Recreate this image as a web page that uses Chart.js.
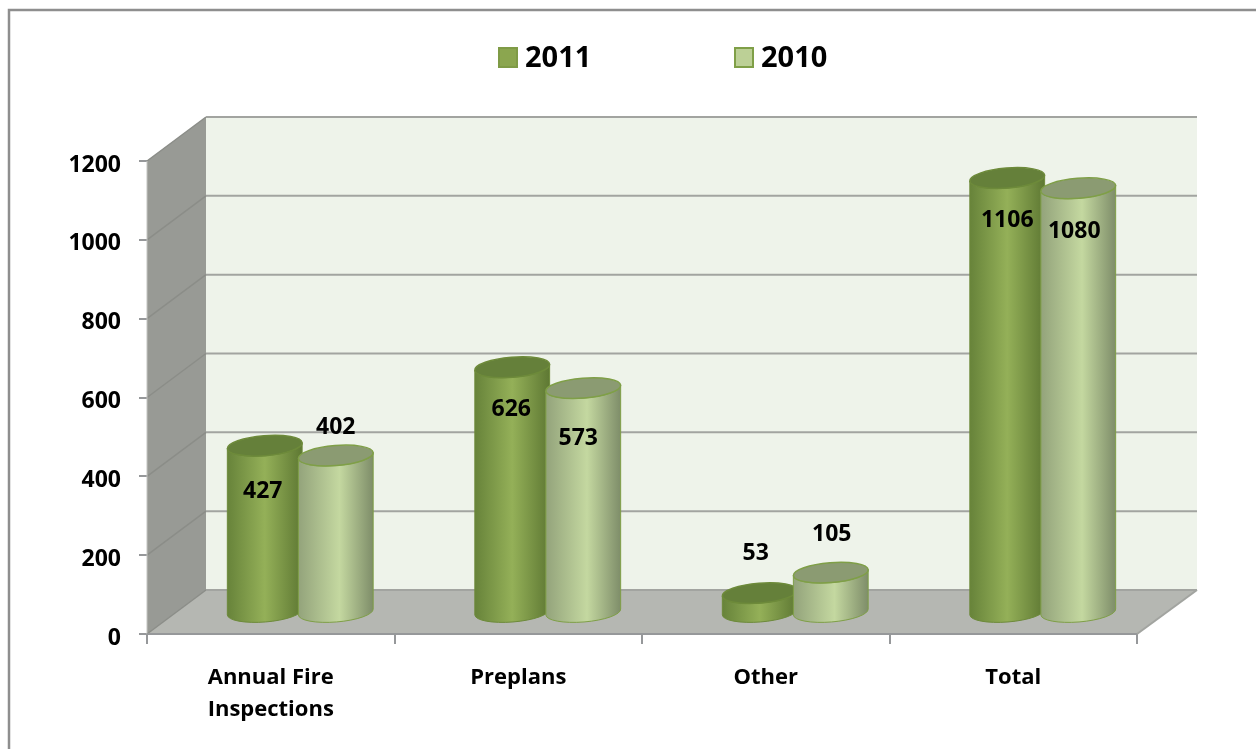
<!DOCTYPE html>
<html>
<head>
<meta charset="utf-8">
<style>
 html,body{margin:0;padding:0;background:#fff}
 canvas{display:block}
</style>
<script src="https://cdn.jsdelivr.net/npm/chart.js@4/dist/chart.umd.min.js"></script>
</head>
<body>
<canvas id="chart" width="1256" height="749"></canvas>
<script>
const categories = [["Annual Fire","Inspections"],"Preplans","Other","Total"]
const seriesNames = ["2011","2010"]
const values2011 = [427,626,53,1106]
const values2010 = [402,573,105,1080]

const FONT = "'Open Sans', sans-serif"
const DEPTH_X = 59, DEPTH_Y = 44
const CYL_LIFT = 20

// how far each value label sits from the top of its cylinder
const labelShift = [
 [[-2,46],[-1,42],[-4,-40],[0,42]],
 [[0,-28],[-5,50],[1,-38],[-4,43]]
]

const cylinderStyle = [
 {left:"#67833a",mid:"#94b058",midAt:.5,right:"#5e7833",top:"#65803a",line:"#6d8a3a"},
 {left:"#93a37b",mid:"#c4d8a0",midAt:.55,right:"#7e8d69",top:"#8b9b72",line:"#7f9f47"}
]

// swatch x, text x for each legend entry
const legendSpots = [[498,525],[734,761]]
const legendFill = [["#8ba64f","#7f9b46"],["#bcd096","#7f9f47"]]

function polygon(ctx,pts,fill){
 ctx.beginPath()
 pts.forEach((p,i)=> i ? ctx.lineTo(p[0],p[1]) : ctx.moveTo(p[0],p[1]))
 ctx.closePath()
 ctx.fillStyle = fill
 ctx.fill()
}

function line(ctx,x1,y1,x2,y2,color,w){
 ctx.beginPath()
 ctx.moveTo(x1,y1)
 ctx.lineTo(x2,y2)
 ctx.strokeStyle = color
 ctx.lineWidth = w
 ctx.stroke()
}

const frame = {
 id:"frame",
 afterLayout(chart){
  // y tick text sits a little under its tick mark in the original
  chart.scales.y.getLabelItems().forEach(it=>{it.options.translation[1] += 4})
 },
 beforeDraw(chart){
  const ctx = chart.ctx
  ctx.save()
  ctx.fillStyle = "#fff"
  ctx.fillRect(0,0,chart.width,chart.height)
  ctx.strokeStyle = "#8e8e8e"
  ctx.lineWidth = 2.5
  ctx.beginPath()
  ctx.moveTo(9,chart.height)
  ctx.lineTo(9,10)
  ctx.lineTo(chart.width,10)
  ctx.stroke()
  // legend
  ctx.font = "700 29px "+FONT
  ctx.textBaseline = "middle"
  seriesNames.forEach((name,i)=>{
   const [bx,tx] = legendSpots[i]
   ctx.fillStyle = legendFill[i][0]
   ctx.strokeStyle = legendFill[i][1]
   ctx.lineWidth = 2
   ctx.fillRect(bx+1,48,18,19)
   ctx.strokeRect(bx+1,48,18,19)
   ctx.fillStyle = "#000"
   ctx.fillText(name,tx,59)
  })
  ctx.restore()
 }
}

const walls = {
 id:"walls",
 beforeDatasetsDraw(chart){
  const ctx = chart.ctx, x = chart.scales.x, y = chart.scales.y
  const y0 = y.getPixelForValue(0), yMax = y.getPixelForValue(y.max)
  const backRight = x.right+DEPTH_X+1
  ctx.save()
  polygon(ctx,[[x.left+DEPTH_X,yMax-DEPTH_Y],[backRight,yMax-DEPTH_Y],[backRight,y0-DEPTH_Y],[x.left+DEPTH_X,y0-DEPTH_Y]],"#eef3ea")
  polygon(ctx,[[x.left,yMax],[x.left+DEPTH_X,yMax-DEPTH_Y],[x.left+DEPTH_X,y0-DEPTH_Y],[x.left,y0]],"#989a95")
  polygon(ctx,[[x.left,y0],[x.left+DEPTH_X,y0-DEPTH_Y],[backRight,y0-DEPTH_Y],[x.right,y0]],"#b5b7b2")
  y.ticks.forEach(t=>{
   const py = y.getPixelForValue(t.value)
   line(ctx,x.left,py,x.left+DEPTH_X,py-DEPTH_Y,"#8b8d88",1.5)
   line(ctx,x.left+DEPTH_X,py-DEPTH_Y,backRight,py-DEPTH_Y,"#a2a4a0",2)
  })
  line(ctx,x.right,y0,backRight,y0-DEPTH_Y,"#a2a4a0",2)
  line(ctx,x.left,yMax,x.left,y0,"#c3c4c1",1)
  line(ctx,x.left,y0,x.right,y0,"#96989a",2)
  ctx.restore()
 }
}

function cylinder(ctx,cx,yTop,yBase,rx,s){
 const ry = 10, rot = -0.08
 const grad = ctx.createLinearGradient(cx-rx,0,cx+rx,0)
 grad.addColorStop(0,s.left)
 grad.addColorStop(s.midAt,s.mid)
 grad.addColorStop(1,s.right)
 ctx.beginPath()
 ctx.ellipse(cx,yBase,rx,ry,rot,0,Math.PI)
 ctx.ellipse(cx,yTop,rx,ry,rot,Math.PI,0,true)
 ctx.closePath()
 ctx.fillStyle = grad
 ctx.fill()
 ctx.strokeStyle = s.line
 ctx.lineWidth = 1
 ctx.stroke()
 ctx.beginPath()
 ctx.ellipse(cx,yTop,rx,ry,rot,0,Math.PI*2)
 ctx.fillStyle = s.top
 ctx.fill()
 ctx.lineWidth = 1.5
 ctx.stroke()
}

const cylinders = {
 id:"cylinders",
 afterDatasetsDraw(chart){
  const ctx = chart.ctx
  ctx.save()
  chart.data.datasets.forEach((ds,i)=>{
   chart.getDatasetMeta(i).data.forEach(bar=>{
    cylinder(ctx,bar.x+DEPTH_X/2,bar.y-CYL_LIFT,bar.base-CYL_LIFT-1,(bar.width+4)/2,cylinderStyle[i])
   })
  })
  ctx.font = "700 23px "+FONT
  ctx.fillStyle = "#000"
  ctx.textAlign = "center"
  ctx.textBaseline = "middle"
  chart.data.datasets.forEach((ds,i)=>{
   chart.getDatasetMeta(i).data.forEach((bar,j)=>{
    const s = labelShift[i][j]
    ctx.fillText(ds.data[j],bar.x+DEPTH_X/2+s[0],bar.y-CYL_LIFT+s[1])
   })
  })
  ctx.restore()
 }
}

new Chart(document.getElementById("chart"),{
 type:"bar",
 data:{
  labels:categories,
  datasets:[
   {label:seriesNames[0],data:values2011,backgroundColor:"transparent"},
   {label:seriesNames[1],data:values2010,backgroundColor:"transparent"}
  ]
 },
 options:{
  responsive:false,
  animation:false,
  events:[],
  layout:{padding:{top:161,right:119,left:0,bottom:0}},
  datasets:{bar:{categoryPercentage:.574,barPercentage:1}},
  plugins:{
   tooltip:{enabled:false},
   legend:{display:false}
  },
  scales:{
   x:{
    afterFit(s){s.height=115},
    grid:{drawOnChartArea:false,tickLength:10,color:"#96989a",lineWidth:2},
    border:{display:false},
    ticks:{color:"#000",padding:18,maxRotation:0,autoSkip:false,font:{family:FONT,size:22,weight:"700",lineHeight:1.45}}
   },
   y:{
    min:0,
    max:1200,
    afterFit(s){s.width=147},
    grid:{drawOnChartArea:false,tickLength:8,color:"#96989a",lineWidth:2},
    border:{display:false},
    ticks:{color:"#000",stepSize:200,padding:18,callback:v=>String(v),font:{family:FONT,size:23,weight:"700"}}
   }
  }
 },
 plugins:[frame,walls,cylinders]
})
</script>
</body>
</html>
